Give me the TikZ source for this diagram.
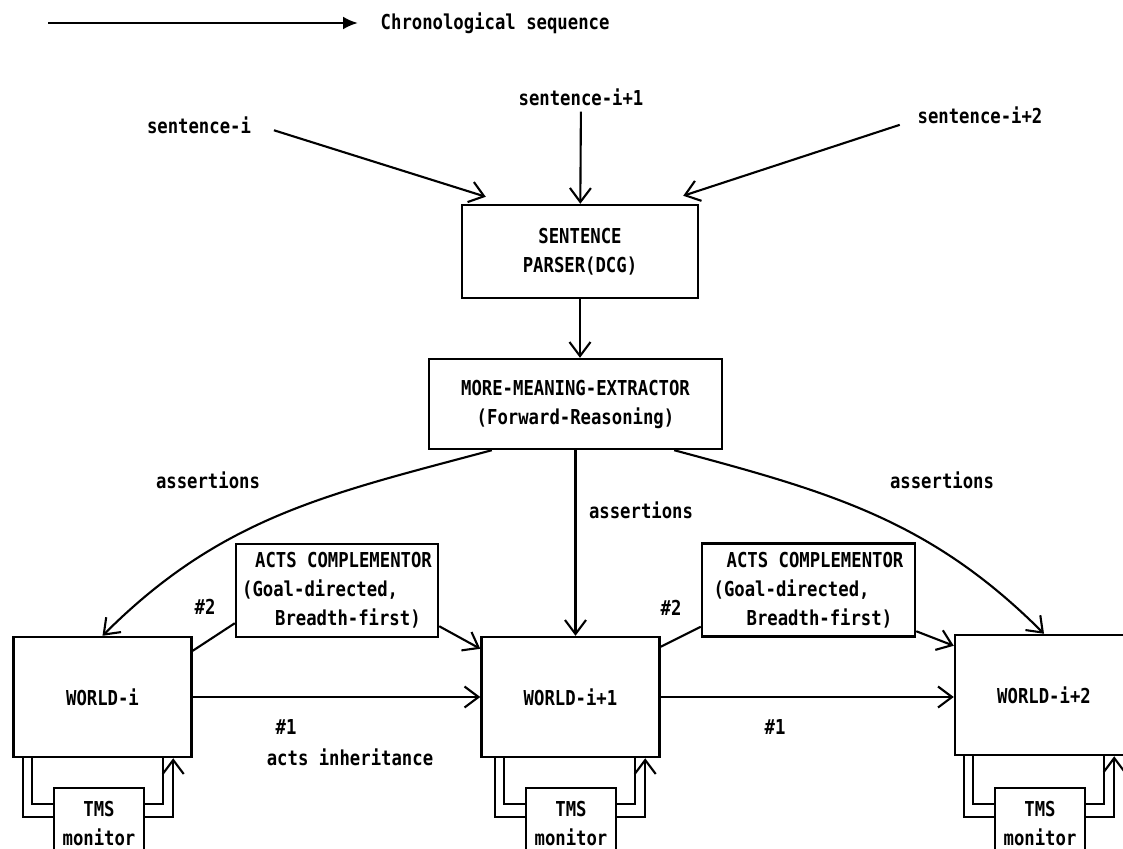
\documentclass[tikz,border=0pt]{standalone}
\usepackage{fontspec}
\newfontfamily\dgfont{DejaVu Sans Mono}[FakeStretch=0.84]
\usepackage{tikz}
\usetikzlibrary{arrows.meta, positioning, calc}
\newcommand{\diagfont}{\dgfont\bfseries\fontsize{11.7}{16.5}\selectfont}

\begin{document}
\begin{tikzpicture}[
    font=\diagfont,
    proc/.style={rectangle, draw, line width=1.4pt, align=center, inner sep=2pt},
    world/.style={proc, minimum width=3.56cm, minimum height=2.4cm},
    tms/.style={proc, minimum width=1.8cm, minimum height=1.4cm},
    acts/.style={proc, align=left, minimum height=1.86cm},
    arr/.style={-{Straight Barb[length=2.8mm, width=4.2mm]}, line width=1.2pt},
    link/.style={line width=1.2pt},
]

\useasboundingbox (0,0) rectangle (22.46,-16.96);
\clip (0,0) rectangle (22.46,-16.96);

% legend
\coordinate (legstart) at (0.96,-0.46);
\node[anchor=west] (legtext) at (7.49,-0.46) {Chronological sequence};
\draw[line width=1.5pt, -{Latex[length=3mm, width=2.6mm]}, shorten >=0.33cm] (legstart) -- (legtext.west);

% input sentences
\node (sen0) at (3.98,-2.5) {sentence-i};
\node (sen1) at (11.62,-1.94) {sentence-i+1};
\node (sen2) at (19.6,-2.3) {sentence-i+2};

\node[proc, minimum width=4.72cm, minimum height=1.86cm] (parser) at (11.6,-5.03)
    {SENTENCE\\PARSER(DCG)};
\node[proc, minimum width=5.86cm, minimum height=1.8cm] (mme) at (11.51,-8.08)
    {MORE-MEANING-EXTRACTOR\\(Forward-Reasoning)};

\draw[arr, shorten <=10pt] (sen0.east) -- ([shift={(0.5,0.14)}]parser.north west);
\draw[arr] (sen1) -- (parser);
\draw[arr, shorten <=7pt] ([yshift=-0.12cm]sen2.west) -- ([shift={(-0.32,0.16)}]parser.north east);
\draw[arr] (parser.south) -- (parser.south |- mme.north);

% worlds
\node[world] (w0) at (2.05,-13.94) {WORLD-i};
\node[world] (w1) at (11.41,-13.94) {WORLD-i+1};
\node[world] (w2) at (20.88,-13.9) {WORLD-i+2};

% acts complementors
\node[acts, minimum width=4.04cm] (ac0) at (6.74,-11.81)
    {\hspace*{0.26cm}ACTS COMPLEMENTOR\\(Goal-directed,\\\hspace*{0.66cm}Breadth-first)};
\node[acts, minimum width=4.26cm] (ac1) at (16.17,-11.8)
    {\hspace*{0.26cm}ACTS COMPLEMENTOR\\(Goal-directed,\\\hspace*{0.66cm}Breadth-first)};

% TMS monitors
\node[tms] (t0) at (1.98,-16.46) {TMS\\monitor};
\node[tms] (t1) at (11.42,-16.46) {TMS\\monitor};
\node[tms] (t2) at (20.80,-16.46) {TMS\\monitor};

% assertions
\draw[arr] ([xshift=1.28cm]mme.south west) to[out=195, in=45] (w0.north);
\draw[arr] (mme.south) -- (mme.south |- w1.north);
\draw[arr] ([xshift=-0.98cm]mme.south east) to[out=-15, in=135] (w2.north);
\node at (4.16,-9.6) {assertions};
\node at (12.82,-10.2) {assertions};
\node at (18.84,-9.6) {assertions};

% #2: acts complementor
\draw[link] ([yshift=-0.3cm]w0.north east) -- ([yshift=0.3cm]ac0.south west);
\draw[arr] ([yshift=0.24cm]ac0.south east) -- ([yshift=-0.26cm]w1.north west);
\draw[link] ([yshift=-0.22cm]w1.north east) -- ([yshift=0.22cm]ac1.south west);
\draw[arr] ([yshift=0.13cm]ac1.south east) -- ([yshift=-0.24cm]w2.north west);
\node at (4.1,-12.14) {\#2};
\node at (13.42,-12.16) {\#2};

% #1: acts inheritance
\draw[arr] (w0) -- (w1);
\draw[arr] (w1.east) -- (w1.east -| w2.west);
\node at (5.72,-14.54) {\#1};
\node at (15.5,-14.54) {\#1};
\node at (7.0,-15.14) {acts inheritance};

% TMS loops
\foreach \w/\t in {w0/t0, w1/t1, w2/t2} {
  \draw[link] ([yshift=-0.6cm]\t.north west) -| ($(\t.west |- \w.south)+(-0.6,0)$);
  \draw[link] ([yshift=-0.34cm]\t.north west) -| ($(\t.west |- \w.south)+(-0.42,0)$);
  \draw[link] ([yshift=-0.34cm]\t.north east) -| ($(\t.east |- \w.south)+(0.36,0)$);
  \draw[arr] ([yshift=-0.6cm]\t.north east) -| ($(\t.east |- \w.south)+(0.56,0)$);
}

\end{tikzpicture}
\end{document}
